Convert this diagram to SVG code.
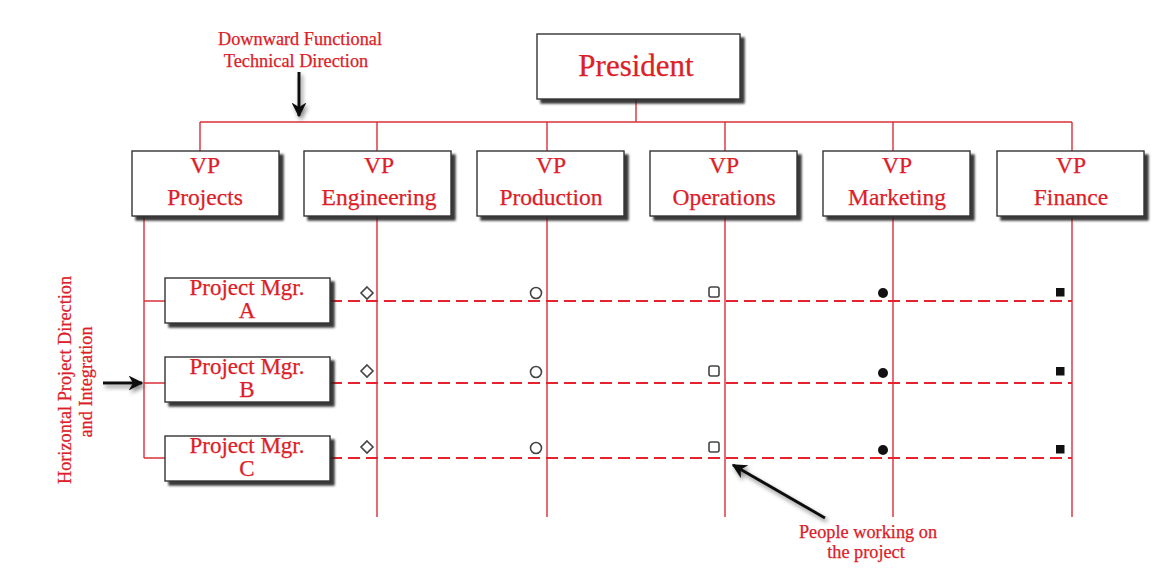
<svg xmlns="http://www.w3.org/2000/svg" width="1167" height="573" viewBox="0 0 1167 573">
<style>
.box{fill:#fff;stroke:#333;stroke-width:1.4;filter:url(#sh)}
.t{font-family:"Liberation Serif","Times New Roman",serif;fill:#dc2027;text-anchor:middle;stroke:#dc2027;stroke-width:0.25}
.vp{font-size:23.5px}
.pm{font-size:23px}
.note{font-size:18.3px}
.ln{stroke:#d9303a;stroke-width:1.4;fill:none}
.dash{stroke:#e5222e;stroke-width:2;stroke-dasharray:12 6;fill:none}
.hol{fill:#fff;stroke:#444;stroke-width:1.6}
.fil{fill:#111}
.arr{stroke:#111;stroke-width:3;fill:none;filter:url(#sh2)}
</style>
<defs>
<filter id="sh" x="-10%" y="-10%" width="130%" height="140%">
<feDropShadow dx="4" dy="4" stdDeviation="1.2" flood-color="#222" flood-opacity="0.9"/>
</filter>
<filter id="sh2" filterUnits="userSpaceOnUse" x="0" y="0" width="1167" height="573">
<feDropShadow dx="2" dy="3" stdDeviation="2" flood-color="#555" flood-opacity="0.7"/>
</filter>
<marker id="ah" viewBox="0 0 10 10" refX="9" refY="5" markerWidth="5" markerHeight="5" orient="auto" markerUnits="strokeWidth">
<path d="M0,0 L10,5 L0,10 L3,5 z" fill="#111"/>
</marker>
</defs>
<rect width="1167" height="573" fill="#fff"/>

<g id="connectors">
<path class="ln" d="M636,99 V122 M200,122 H1072 M200,122 V151 M377,122 V151 M547,122 V151 M725,122 V151 M893,122 V151 M1072,122 V151"/>
<path class="ln" d="M144,216 V458 M377,216 V517 M547,216 V517 M725,216 V517 M893,216 V517 M1072,216 V517"/>
<path class="ln" d="M144,301 H165 M144,383 H165 M144,458 H165"/>
<path class="dash" d="M330,301 H1072 M330,383 H1072 M330,458 H1072"/>
</g>

<g id="president">
<rect class="box" x="537" y="34" width="203" height="65"/>
<text class="t" x="636" y="76" font-size="31">President</text>
</g>

<g id="vp-projects">
<rect class="box" x="132" y="151" width="147" height="65"/>
<text class="t vp" x="205" y="173">VP</text>
<text class="t vp" x="205" y="205">Projects</text>
</g>
<g id="vp-engineering">
<rect class="box" x="304" y="151" width="147" height="65"/>
<text class="t vp" x="379" y="173">VP</text>
<text class="t vp" x="379" y="205">Engineering</text>
</g>
<g id="vp-production">
<rect class="box" x="477" y="151" width="147" height="65"/>
<text class="t vp" x="551" y="173">VP</text>
<text class="t vp" x="551" y="205">Production</text>
</g>
<g id="vp-operations">
<rect class="box" x="650" y="151" width="147" height="65"/>
<text class="t vp" x="724" y="173">VP</text>
<text class="t vp" x="724" y="205">Operations</text>
</g>
<g id="vp-marketing">
<rect class="box" x="823" y="151" width="147" height="65"/>
<text class="t vp" x="897" y="173">VP</text>
<text class="t vp" x="897" y="205">Marketing</text>
</g>
<g id="vp-finance">
<rect class="box" x="997" y="151" width="147" height="65"/>
<text class="t vp" x="1071" y="173">VP</text>
<text class="t vp" x="1071" y="205">Finance</text>
</g>

<g id="pm-a">
<rect class="box" x="165" y="278" width="165" height="45"/>
<text class="t pm" x="247" y="295">Project Mgr.</text>
<text class="t pm" x="247" y="318">A</text>
</g>
<g id="pm-b">
<rect class="box" x="165" y="357" width="165" height="45"/>
<text class="t pm" x="247" y="374">Project Mgr.</text>
<text class="t pm" x="247" y="397">B</text>
</g>
<g id="pm-c">
<rect class="box" x="165" y="436" width="165" height="45"/>
<text class="t pm" x="247" y="453">Project Mgr.</text>
<text class="t pm" x="247" y="476">C</text>
</g>

<g id="people">
<path class="hol" d="M367,287 L373,293 L367,299 L361,293 z"/>
<path class="hol" d="M367,365 L373,371 L367,377 L361,371 z"/>
<path class="hol" d="M367,441 L373,447 L367,453 L361,447 z"/>
<circle class="hol" cx="536" cy="293" r="5.5"/>
<circle class="hol" cx="536" cy="372" r="5.5"/>
<circle class="hol" cx="536" cy="448" r="5.5"/>
<rect class="hol" x="709" y="287" width="10" height="10" rx="2"/>
<rect class="hol" x="709" y="366" width="10" height="10" rx="2"/>
<rect class="hol" x="709" y="442" width="10" height="10" rx="2"/>
<circle class="fil" cx="883" cy="293" r="5"/>
<circle class="fil" cx="883" cy="373" r="5"/>
<circle class="fil" cx="883" cy="450" r="5"/>
<rect class="fil" x="1056" y="288" width="8.5" height="8.5"/>
<rect class="fil" x="1056" y="367" width="8.5" height="8.5"/>
<rect class="fil" x="1056" y="445" width="8.5" height="8.5"/>
</g>

<g id="note-downward">
<text class="t note" x="300" y="45">Downward Functional</text>
<text class="t note" x="296" y="67">Technical Direction</text>
<path class="arr" d="M299,72 V116" marker-end="url(#ah)"/>
</g>

<g id="note-horizontal">
<text class="t note" font-size="17.6" transform="translate(71,380) rotate(-90)">Horizontal Project Direction</text>
<text class="t note" font-size="17.6" transform="translate(92,382) rotate(-90)">and Integration</text>
<path class="arr" d="M103,383 H142" stroke-width="2.4" marker-end="url(#ah)"/>
</g>

<g id="note-people">
<text class="t note" x="868" y="538">People working on</text>
<text class="t note" x="866" y="558">the project</text>
<path class="arr" d="M825,518 L733,465" stroke-width="3.5" marker-end="url(#ah)"/>
</g>
</svg>
